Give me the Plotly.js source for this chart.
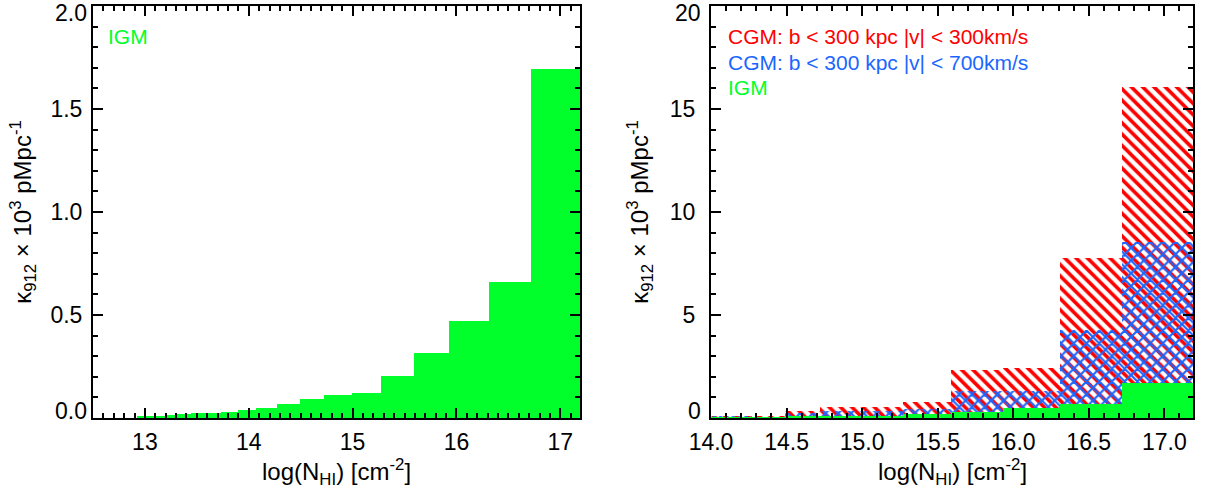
<!DOCTYPE html>
<html>
<head>
<meta charset="utf-8">
<script src="https://cdn.plot.ly/plotly-3.0.1.min.js"></script>
<style>html,body{margin:0;padding:0;background:#fff;}#chart{width:1208px;height:488px;}</style>
</head>
<body>
<div id="chart"></div>
<script>
// Bin edges in log(N_HI)
const binEdges = [12.92, 13.10, 13.21, 13.31, 13.44, 13.73, 13.90, 14.07, 14.27, 14.49, 14.72, 14.99, 15.27, 15.59, 15.93, 16.31, 16.72, 17.20];
// kappa_912 x 10^3 pMpc^-1
const igmValues = [0.008, 0.009, 0.013, 0.018, 0.023, 0.029, 0.039, 0.047, 0.068, 0.093, 0.114, 0.119, 0.202, 0.314, 0.471, 0.660, 1.695];
const cgm300Values = [0, 0, 0, 0, 0, 0, 0.08, 0.10, 0.10, 0.36, 0.52, 0.52, 0.77, 2.31, 2.42, 7.76, 16.06];
const cgm700Values = [0, 0, 0, 0, 0, 0, 0.10, 0.08, 0.06, 0.23, 0.33, 0.33, 0.45, 1.29, 1.29, 4.25, 8.53];
const legendLabels = ["CGM: b &lt; 300 kpc |v| &lt; 300km/s", "CGM: b &lt; 300 kpc |v| &lt; 700km/s", "IGM"];
// tick values / labels
const xTicksL = [13, 14, 15, 16, 17], xLabelsL = ["13", "14", "15", "16", "17"];
const yTicksL = [0, 0.5, 1.0, 1.5, 2.0], yLabelsL = ["0.0", "0.5", "1.0", "1.5", "2.0"];
const xTicksR = [14, 14.5, 15, 15.5, 16, 16.5, 17], xLabelsR = ["14.0", "14.5", "15.0", "15.5", "16.0", "16.5", "17.0"];
const yTicksR = [0, 5, 10, 15, 20], yLabelsR = ["0", "5", "10", "15", "20"];

const centers = binEdges.slice(0, -1).map((e, i) => (e + binEdges[i + 1]) / 2);
const widths = binEdges.slice(0, -1).map((e, i) => binEdges[i + 1] - e);

const GREEN = "#00ff2b", RED = "#ff0000", BLUE = "#1a66ff";
const FONT = "Liberation Sans, Arial, Helvetica, sans-serif";

const traces = [
  {type: "bar", x: centers, y: igmValues, width: widths, xaxis: "x", yaxis: "y",
   marker: {color: GREEN, line: {width: 0}}, opacity: 1, showlegend: false},
  {type: "bar", x: centers, y: cgm300Values, width: widths, xaxis: "x2", yaxis: "y2",
   marker: {color: RED, line: {width: 0},
     pattern: {shape: "\\", fillmode: "replace", fgcolor: RED, bgcolor: "rgba(0,0,0,0)", size: 8, solidity: 0.45}},
   opacity: 1, showlegend: false},
  {type: "bar", x: centers, y: cgm700Values, width: widths, xaxis: "x2", yaxis: "y2",
   marker: {color: BLUE, line: {width: 0},
     pattern: {shape: "x", fillmode: "replace", fgcolor: BLUE, bgcolor: "rgba(0,0,0,0)", size: 9, solidity: 0.42}},
   opacity: 1, showlegend: false},
  {type: "bar", x: centers, y: igmValues, width: widths, xaxis: "x2", yaxis: "y2",
   marker: {color: GREEN, line: {width: 0}}, opacity: 1, showlegend: false}
];

const W = 1208, H = 488, MB = 70, PH = H - MB; // plot area height 418 px; frame bottom at y=418
const TICKSIZE = 23, TITLESIZE = 24, LEGSIZE = 21;

function axisCommon(extra) {
  return Object.assign({
    showline: true, linecolor: "black", linewidth: 2, mirror: "ticks",
    ticks: "inside", ticklen: 10, tickwidth: 2, tickcolor: "black",
    showgrid: false, zeroline: false,
    tickfont: {family: FONT, size: TICKSIZE, color: "black"}
  }, extra);
}
const minorOf = (d) => ({dtick: d, ticks: "inside", ticklen: 5, tickwidth: 2, tickcolor: "black", showgrid: false});
// inner tick labels drawn by the axis; the two edge labels are drawn as annotations nudged inward
const innerLabels = (labels) => labels.map((t, i) => (i === 0 || i === labels.length - 1) ? "" : t);
const py = (ypx) => (PH - ypx) / PH;

const xDomL = [93 / W, 580 / W], xDomR = [711 / W, 1193 / W];
const yDomain = [0, py(6)];
const xTitle = "log(N<sub>HI</sub>) [cm<sup>-2</sup>]";
const yTitle = "κ<sub>912</sub> × 10<sup>3</sup> pMpc<sup>-1</sup>";
const titleFont = {family: FONT, size: TITLESIZE, color: "black"};

function edgeLabel(text, yref, yval, xpx, shift) {
  return {text: text, xref: "paper", yref: yref, x: xpx / W, y: yval, xanchor: "right", yanchor: "middle",
          yshift: shift, showarrow: false, borderpad: 0, font: {family: FONT, size: TICKSIZE, color: "black"}};
}
function legendText(text, xpx, ypx, color) {
  return {text: text, xref: "paper", yref: "paper", x: xpx / W, y: py(ypx), xanchor: "left", yanchor: "middle",
          showarrow: false, font: {family: FONT, size: LEGSIZE, color: color}};
}
function xTitleAnn(dom) {
  return {text: xTitle, xref: "paper", yref: "paper", x: (dom[0] + dom[1]) / 2, y: py(472),
          xanchor: "center", yanchor: "middle", showarrow: false, borderpad: 0, font: titleFont};
}

const layout = {
  width: W, height: H,
  margin: {l: 0, r: 0, t: 0, b: MB},
  paper_bgcolor: "white", plot_bgcolor: "white",
  barmode: "overlay", bargap: 0,
  font: {family: FONT, color: "black"},
  xaxis: axisCommon({domain: xDomL, range: [12.5, 17.19], anchor: "y",
    tickvals: xTicksL, ticktext: xLabelsL,
    ticklabelstandoff: 2, minor: minorOf(0.1)}),
  yaxis: axisCommon({domain: yDomain, range: [0, 2.0], anchor: "x",
    tickvals: yTicksL, ticktext: innerLabels(yLabelsL),
    ticklabelstandoff: 4, minor: minorOf(0.1),
    title: {text: yTitle, font: titleFont, standoff: 12}}),
  xaxis2: axisCommon({domain: xDomR, range: [14.0, 17.19], anchor: "y2",
    tickvals: xTicksR, ticktext: xLabelsR,
    ticklabelstandoff: 2, minor: minorOf(0.1)}),
  yaxis2: axisCommon({domain: yDomain, range: [0, 20], anchor: "x2",
    tickvals: yTicksR, ticktext: innerLabels(yLabelsR),
    ticklabelstandoff: 9, minor: minorOf(1),
    title: {text: yTitle, font: titleFont, standoff: 14}}),
  annotations: [
    edgeLabel(yLabelsL[0], "y", yTicksL[0], 88, 7),
    edgeLabel(yLabelsL[yLabelsL.length - 1], "y", yTicksL[yTicksL.length - 1], 88, -7),
    edgeLabel(yLabelsR[0], "y2", yTicksR[0], 702, 7),
    edgeLabel(yLabelsR[yLabelsR.length - 1], "y2", yTicksR[yTicksR.length - 1], 702, -7),
    xTitleAnn(xDomL),
    xTitleAnn(xDomR),
    legendText(legendLabels[2], 106, 36, GREEN),
    legendText(legendLabels[0], 726, 37, RED),
    legendText(legendLabels[1], 726, 62, BLUE),
    legendText(legendLabels[2], 726, 87, GREEN)
  ]
};

Plotly.newPlot("chart", traces, layout, {displayModeBar: false, staticPlot: true});
</script>
</body>
</html>
